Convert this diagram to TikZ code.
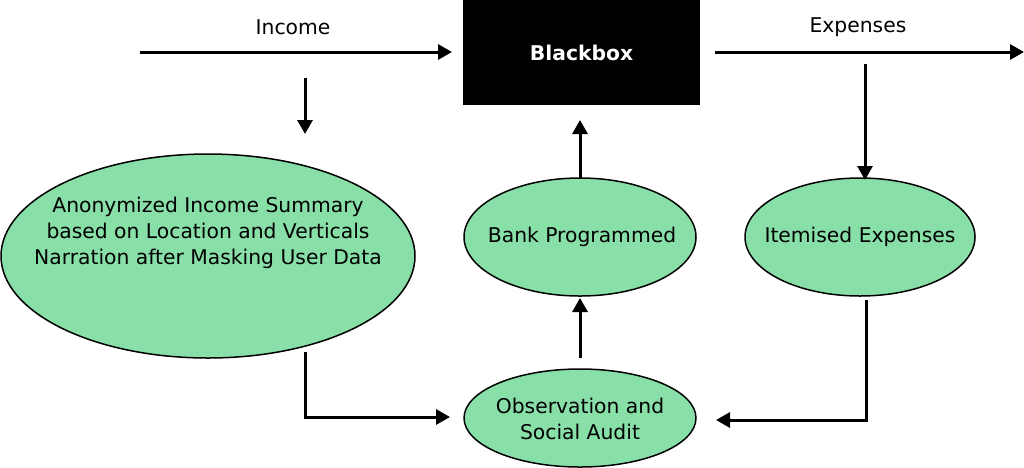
\documentclass[tikz,border=0pt]{standalone}
\usepackage{fontspec}
\setmainfont{DejaVu Sans}
\usetikzlibrary{arrows.meta,shapes.geometric}
\definecolor{gr}{HTML}{88E0A8}
\begin{document}
\begin{tikzpicture}[x=1pt,y=-1pt,
  arr/.style={line width=3pt,-{Triangle[length=14pt,width=15pt]}},
  ellfill/.style={draw,line width=1.5pt,fill=gr},
  txt/.style={align=center,font=\fontsize{20.3}{26}\selectfont},
  lbl/.style={font=\fontsize{20.3}{24}\selectfont}]
\useasboundingbox (0,0) rectangle (1024,467);
\node[fill=black,minimum width=237pt,minimum height=105pt,inner sep=0pt,text=white,font=\bfseries\fontsize{20.3}{24}\selectfont] (bb) at (581.5,52.5) {Blackbox};
\draw[ellfill] (208,256) ellipse (207 and 102);
\draw[ellfill] (580,237) ellipse (116 and 59);
\draw[ellfill] (860,237) ellipse (115 and 59);
\draw[ellfill] (580,418) ellipse (116 and 49);
\node[txt] (anon) at (208,233) {Anonymized Income Summary\\based on Location and Verticals\\Narration after Masking User Data};
\node[txt] (bank) at (582,237) {Bank Programmed};
\node[txt] (item) at (860,237) {Itemised Expenses};
\node[txt] (obs) at (580,419) {Observation and\\Social Audit};
\node[lbl] (inc) at (293,27) {Income};
\node[lbl] (exp) at (858,27) {Expenses};
\coordinate (i0) at (140,52); \coordinate (i1) at (452,52);
\coordinate (e0) at (715,52); \coordinate (e1) at (1024,52);
\coordinate (d0) at (305,78); \coordinate (d1) at (305,134);
\coordinate (x0) at (865,64); \coordinate (x1) at (865,180);
\coordinate (b0) at (580,178); \coordinate (b1) at (580,120);
\coordinate (o0) at (580,358); \coordinate (o1) at (580,298);
\coordinate (l0) at (305,352); \coordinate (l1) at (450,417);
\coordinate (r0) at (866,300); \coordinate (r1) at (716,420);
\draw[arr] (i0) -- (i1);
\draw[arr] (e0) -- (e1);
\draw[arr] (d0) -- (d1);
\draw[arr] (x0) -- (x1);
\draw[arr] (b0) -- (b1);
\draw[arr] (o0) -- (o1);
\draw[arr] (l0) |- (l1);
\draw[arr] (r0) |- (r1);
\end{tikzpicture}
\end{document}
